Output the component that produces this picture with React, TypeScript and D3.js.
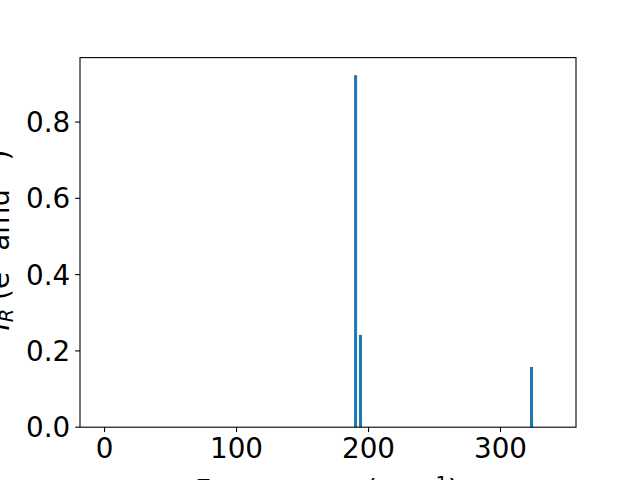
import React from "react";
import * as d3 from "d3";

const frequencies = [190.2, 193.9, 323.5];
const intensities = [0.923, 0.242, 0.158];
const xTicks = [0, 100, 200, 300];
const yTicks = [0, 0.2, 0.4, 0.6, 0.8];
const barWidth = 2.3;

const W = 640;
const H = 480;
const left = 80;
const right = 576;
const top = 57.6;
const bottom = 427.2;
const FONT = "DejaVu Sans, sans-serif";
const FS = 27.8;

export default function App() {
  const x = d3.scaleLinear().domain([-18.6, 357.2]).range([left, right]);
  const y = d3.scaleLinear().domain([0, 0.969]).range([bottom, top]);
  const tickLen = 4.86;
  const sup = FS * 0.7;

  return (
    <svg
      width={W}
      height={H}
      style={{ position: "absolute", left: 0, top: 0, background: "#fff" }}
      fontFamily={FONT}
    >
      <rect x={0} y={0} width={W} height={H} fill="#fff" />
      {frequencies.map((f, i) => (
        <rect
          key={i}
          x={x(f - barWidth / 2)}
          width={x(f + barWidth / 2) - x(f - barWidth / 2)}
          y={y(intensities[i])}
          height={y(0) - y(intensities[i])}
          fill="#1f77b4"
        />
      ))}
      <rect
        x={left}
        y={top}
        width={right - left}
        height={bottom - top}
        fill="none"
        stroke="#000"
        strokeWidth={1.1}
      />
      {xTicks.map((t) => (
        <g key={"x" + t}>
          <line x1={x(t)} x2={x(t)} y1={bottom} y2={bottom + tickLen} stroke="#000" strokeWidth={1.1} />
          <text x={x(t)} y={458} fontSize={FS} textAnchor="middle" fill="#000">
            {d3.format("d")(t)}
          </text>
        </g>
      ))}
      {yTicks.map((t) => (
        <g key={"y" + t}>
          <line x1={left - tickLen} x2={left} y1={y(t)} y2={y(t)} stroke="#000" strokeWidth={1.1} />
          <text x={70.3} y={y(t) + 10.1} fontSize={FS} textAnchor="end" fill="#000">
            {d3.format(".1f")(t)}
          </text>
        </g>
      ))}
      <text y={500} fontSize={FS} fill="#000">
        <tspan x={195}>Frequency</tspan>
        <tspan x={366}>(cm</tspan>
        <tspan dy={-FS * 0.36} fontSize={sup}>−1</tspan>
        <tspan dy={FS * 0.36}>)</tspan>
      </text>
      <text
        transform={`translate(9, 240) rotate(-90)`}
        fontSize={FS}
        textAnchor="middle"
        fill="#000"
      >
        <tspan fontStyle="italic">I</tspan>
        <tspan fontStyle="italic" fontSize={sup} dy={FS * 0.15}>R</tspan>
        <tspan dy={-FS * 0.15}> (e</tspan>
        <tspan fontSize={sup} dy={-FS * 0.36}>2</tspan>
        <tspan dy={FS * 0.36}> amu</tspan>
        <tspan fontSize={sup} dy={-FS * 0.36}>−1</tspan>
        <tspan dy={FS * 0.36}>)</tspan>
      </text>
    </svg>
  );
}
